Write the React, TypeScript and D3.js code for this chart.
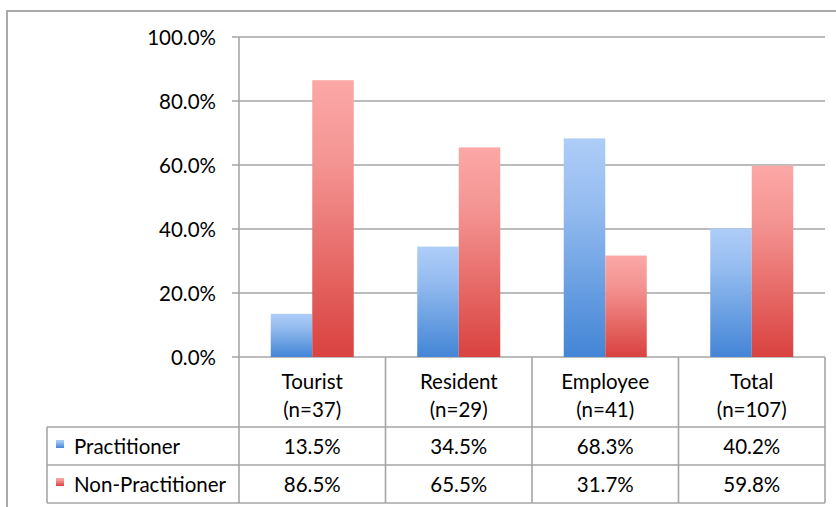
import React from "react";
import * as d3 from "d3";

const categories = ["Tourist", "Resident", "Employee", "Total"];
const sampleSizes = ["(n=37)", "(n=29)", "(n=41)", "(n=107)"];
const seriesNames = ["Practitioner", "Non-Practitioner"];
const practitioner = [13.5, 34.5, 68.3, 40.2];
const nonPractitioner = [86.5, 65.5, 31.7, 59.8];
const yTicks = [0, 20, 40, 60, 80, 100];

const W = 836;
const H = 507;
const FONT = "Lato, 'Open Sans', sans-serif";
const FS = 20.5;
const GRID = "#a6a6a6";

export default function App() {
  const plotLeft = 239;
  const plotRight = 825;
  const plotTop = 37;
  const plotBottom = 357;
  const headerBottom = 427;
  const row1Bottom = 465;
  const row2Bottom = 503;
  const legendLeft = 47;

  const x = d3.scaleBand<string>().domain(categories).range([plotLeft, plotRight]);
  const bw = x.bandwidth();
  const x1 = d3
    .scaleBand<string>()
    .domain(seriesNames)
    .range([bw * 0.2167, bw * 0.7833]);
  const y = d3.scaleLinear().domain([0, 100]).range([plotBottom, plotTop]);

  const series = [
    { name: seriesNames[0], values: practitioner, grad: "gBlue" },
    { name: seriesNames[1], values: nonPractitioner, grad: "gRed" },
  ];

  const rowTops = [headerBottom, row1Bottom];
  const rowBottoms = [row1Bottom, row2Bottom];

  return (
    <div style={{ position: "absolute", left: 0, top: 0 }}>
      <style>{`body{margin:0}`}</style>
      <svg width={W} height={H} style={{ display: "block", background: "#fff" }}>
        <defs>
          <linearGradient id="gBlue" x1="0" y1="0" x2="0" y2="1">
            <stop offset="0" stopColor="#aecdf8" />
            <stop offset="0.3" stopColor="#96bdf0" />
            <stop offset="1" stopColor="#4385d6" />
          </linearGradient>
          <linearGradient id="gRed" x1="0" y1="0" x2="0" y2="1">
            <stop offset="0" stopColor="#fba8a7" />
            <stop offset="0.3" stopColor="#f49492" />
            <stop offset="1" stopColor="#d9423f" />
          </linearGradient>
        </defs>
        {/* outer frame */}
        <rect x={7} y={11} width={W + 10} height={H + 10} fill="none" stroke="#aaaaaa" strokeWidth={2} />

        {/* gridlines + ticks */}
        {yTicks.map((t) => (
          <g key={t}>
            <line x1={plotLeft - 7} x2={plotRight} y1={y(t)} y2={y(t)} stroke={GRID} strokeWidth={1.6} />
            <text
              x={216}
              y={y(t)}
              textAnchor="end"
              dominantBaseline="central"
              fontFamily={FONT}
              fontSize={FS}
              fill="#000"
            >
              {t.toFixed(1)}%
            </text>
          </g>
        ))}
        {/* y axis */}
        <line x1={plotLeft} x2={plotLeft} y1={plotTop} y2={row2Bottom} stroke={GRID} strokeWidth={1.6} />

        {/* bars */}
        {series.map((s) =>
          categories.map((c, i) => (
            <rect
              key={s.name + c}
              x={(x(c) as number) + (x1(s.name) as number)}
              y={y(s.values[i])}
              width={x1.bandwidth()}
              height={plotBottom - y(s.values[i])}
              fill={`url(#${s.grad})`}
            />
          ))
        )}

        {/* data table lines */}
        {categories.map((c) => (
          <line
            key={"v" + c}
            x1={(x(c) as number) + bw}
            x2={(x(c) as number) + bw}
            y1={plotBottom}
            y2={row2Bottom}
            stroke={GRID}
            strokeWidth={1.6}
          />
        ))}
        {[headerBottom, row1Bottom, row2Bottom].map((yy) => (
          <line key={"h" + yy} x1={legendLeft} x2={plotRight} y1={yy} y2={yy} stroke={GRID} strokeWidth={1.6} />
        ))}
        <line x1={legendLeft} x2={legendLeft} y1={headerBottom} y2={row2Bottom} stroke={GRID} strokeWidth={1.6} />

        {/* header labels */}
        {categories.map((c, i) => (
          <g key={"hd" + c} fontFamily={FONT} fontSize={FS} fill="#000" textAnchor="middle">
            <text x={(x(c) as number) + bw / 2} y={381} dominantBaseline="central">
              {c}
            </text>
            <text x={(x(c) as number) + bw / 2} y={409} dominantBaseline="central">
              {sampleSizes[i]}
            </text>
          </g>
        ))}

        {/* rows */}
        {series.map((s, r) => {
          const cy = (rowTops[r] + rowBottoms[r]) / 2;
          return (
            <g key={"row" + s.name} fontFamily={FONT} fontSize={FS} fill="#000">
              <rect x={56} y={cy - 6} width={8} height={8} fill={`url(#${s.grad})`} />
              <text x={74} y={cy} dominantBaseline="central">
                {s.name}
              </text>
              {categories.map((c, i) => (
                <text
                  key={c}
                  x={(x(c) as number) + bw / 2}
                  y={cy}
                  textAnchor="middle"
                  dominantBaseline="central"
                >
                  {s.values[i].toFixed(1)}%
                </text>
              ))}
            </g>
          );
        })}
      </svg>
    </div>
  );
}
